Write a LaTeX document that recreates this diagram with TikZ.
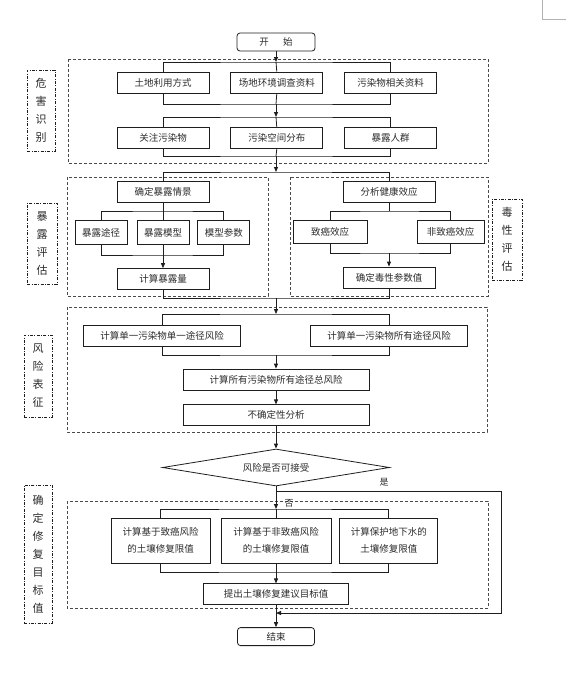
\documentclass[tikz,border=0pt]{standalone}
\usepackage{fontspec}
\newfontfamily\cjk{Noto Sans CJK SC}
\usetikzlibrary{positioning}
\usetikzlibrary{shapes.geometric}
\usetikzlibrary{arrows.meta}
\definecolor{ink}{HTML}{2B2B2B}
\definecolor{edge}{HTML}{1E1E1E}
\definecolor{frame}{HTML}{4A4A4A}

\begin{document}
\begin{tikzpicture}[x=1pt, y=-1pt,
                    box/.style={rectangle, draw=edge, line width=0.8pt, minimum width=92pt, minimum height=21pt, inner sep=0pt, text=ink, font=\cjk\fontsize{9.5}{17.5}\selectfont, align=center},
                    term/.style={box, rounded corners=3pt, minimum width=78pt, minimum height=18pt},
                    ask/.style={diamond, draw=edge, line width=0.8pt, minimum width=227pt, minimum height=37pt, aspect=6, inner sep=0pt, text=ink, font=\cjk\fontsize{9.5}{12}\selectfont},
                    tag/.style={rectangle, draw=edge, line width=0.7pt, dash pattern=on 3pt off 1.5pt on 0.8pt off 1.5pt, minimum width=28pt, inner sep=0pt, text=ink, font=\cjk\fontsize{11}{18}\selectfont, align=center},
                    grp/.style={draw=frame, line width=0.8pt, dash pattern=on 3pt off 2pt},
                    link/.style={draw=edge, line width=0.8pt},
                    arr/.style={link, -{Triangle[length=5pt, width=4pt]}},
                    note/.style={text=ink, font=\cjk\fontsize{9}{11}\selectfont, inner sep=0pt}]
\useasboundingbox (0,0) rectangle (574,675);
\draw[gray!60, line width=0.6pt] (542,0) -- (542,19) -- (566,19);

\draw[grp] (68,59) rectangle (488,163);
\draw[grp] (67,177) rectangle (268,296);
\draw[grp] (290,177) rectangle (488,296);
\draw[grp] (67,307) rectangle (487,432);
\draw[grp] (67,501) rectangle (488,608);

\node (start) [term] at (276,42) {开\hspace{1.5em}始};
\node (land) [box] at (163,82.5) {土地利用方式};
\node (site) [box, right=21pt of land] {场地环境调查资料};
\node (info) [box, right=21pt of site] {污染物相关资料};
\node (focus) [box, below=34pt of land] {关注污染物};
\node (space) [box, below=34pt of site] {污染空间分布};
\node (crowd) [box, below=34pt of info] {暴露人群};

\node (scen) [box] at (163,191.5) {确定暴露情景};
\node (model) [box, minimum width=52pt, minimum height=24pt, below=18pt of scen] {暴露模型};
\node (route) [box, minimum width=52pt, minimum height=24pt, left=9pt of model] {暴露途径};
\node (param) [box, minimum width=52pt, minimum height=24pt, right=8pt of model] {模型参数};
\node (dose) [box, below=23pt of model] {计算暴露量};
\node (health) [box] at (389,191.5) {分析健康效应};
\node (carc) [box, minimum width=74pt, minimum height=23pt] at (330,232) {致癌效应};
\node (noncarc) [box, minimum width=67pt, minimum height=23pt] at (450.5,232) {非致癌效应};
\node (tox) [box] at (389,277.5) {确定毒性参数值};

\node (single) [box, minimum width=157pt] at (162,336) {计算单一污染物单一途径风险};
\node (allpath) [box, minimum width=157pt] at (389,336) {计算单一污染物所有途径风险};
\node (total) [box, minimum width=186pt] at (276,379.5) {计算所有污染物所有途径总风险};
\node (uncert) [box, minimum width=186pt, below=14pt of total] {不确定性分析};
\node (accept) [ask] at (276,467.5) {风险是否可接受};

\node (limn) [box, minimum width=110pt, minimum height=45pt] at (276,540.5) {计算基于非致癌风险\\的土壤修复限值};
\node (limc) [box, minimum width=99pt, minimum height=45pt, left=10pt of limn] {计算基于致癌风险\\的土壤修复限值};
\node (limg) [box, minimum width=98pt, minimum height=45pt, right=8pt of limn] {计算保护地下水的\\土壤修复限值};
\node (target) [box, minimum width=145pt, below=20pt of limn] {提出土壤修复建议目标值};
\node (stop) [term, minimum width=77pt, below=22pt of target] {结束};

\node (lab1) [tag, minimum height=81pt] at (41,110.5) {危\\害\\识\\别};
\node (lab2) [tag, minimum width=30pt, minimum height=81pt] at (42,243.5) {暴\\露\\评\\估};
\node (lab3) [tag, minimum width=30pt, minimum height=81pt] at (507,239.5) {毒\\性\\评\\估};
\node (lab4) [tag, minimum height=82pt] at (38,376) {风\\险\\表\\征};
\node (lab5) [tag, minimum height=138pt] at (38,554) {确\\定\\修\\复\\目\\标\\值};

\node (yes) [note] at (384,482) {是};
\node (no) [note] at (289,503) {否};

\coordinate (b1) at (276,62);
\coordinate (b2) at (276,104);
\coordinate (b3) at (276,117);
\coordinate (b4) at (276,156);
\coordinate (b5) at (276,172);
\coordinate (b6) at (163,211);
\coordinate (b7) at (163,255);
\coordinate (b8) at (389,211);
\coordinate (b9) at (389,253);
\coordinate (b10) at (276,298);
\coordinate (b11) at (276,314);
\coordinate (b12) at (276,355);
\coordinate (b13) at (276,509);
\coordinate (b14) at (276,572);
\coordinate (yes1) at (276,491);
\coordinate (yesA) at (501,491);
\coordinate (yesB) at (276,613);

\draw[arr] (start) -- (b1);
\draw[link] (land.north) |- (b1) -| (info.north);
\draw[link] (b1) -- (site.north);
\draw[link] (land.south) |- (b2) -| (info.south);
\draw[link] (site.south) -- (b2);
\draw[arr] (b2) -- (b3);
\draw[link] (focus.north) |- (b3) -| (crowd.north);
\draw[link] (b3) -- (space.north);
\draw[link] (focus.south) |- (b4) -| (crowd.south);
\draw[link] (space.south) -- (b4);
\draw[arr] (b4) -- (b5);
\draw[link] (scen.north) |- (b5) -| (health.north);

\draw[link] (scen.south) -- (model.north);
\draw[link] (route.north) |- (b6) -| (param.north);
\draw[link] (route.south) |- (b7) -| (param.south);
\draw[link] (model.south) -- (b7);
\draw[arr] (b7) -- (dose.north);
\draw[link] (health.south) -- (b8);
\draw[link] (carc.north) |- (b8) -| (noncarc.north);
\draw[link] (carc.south) |- (b9) -| (noncarc.south);
\draw[arr] (b9) -- (tox.north);
\draw[link] (dose.south) |- (b10) -| (tox.south);
\draw[arr] (b10) -- (b11);

\draw[link] (single.north) |- (b11) -| (allpath.north);
\draw[link] (single.south) |- (b12) -| (allpath.south);
\draw[arr] (b12) -- (total);
\draw[arr] (total) -- (uncert);
\draw[arr] (uncert) -- (accept);

\draw[arr] (accept.south) -- (b13);
\draw[link] (limc.north) |- (b13) -| (limg.north);
\draw[link] (b13) -- (limn.north);
\draw[link] (limc.south) |- (b14) -| (limg.south);
\draw[link] (limn.south) -- (b14);
\draw[arr] (b14) -- (target);
\draw[arr] (target) -- (stop);
\draw[arr] (yes1) -- (yesA) |- (yesB);
\end{tikzpicture}
\end{document}
